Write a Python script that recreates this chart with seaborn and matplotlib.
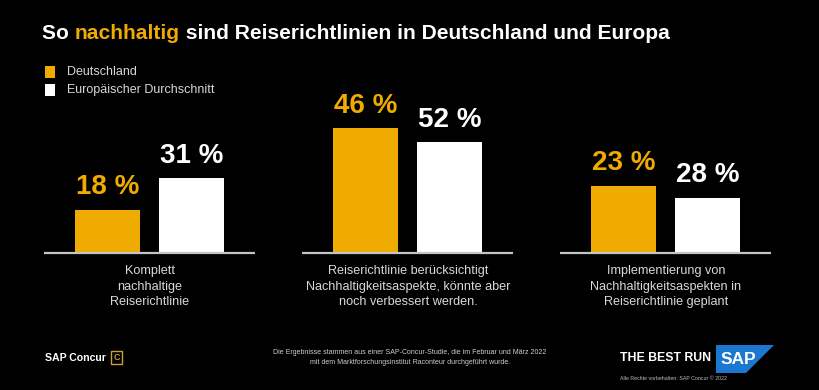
import matplotlib
matplotlib.use("Agg")
import matplotlib.pyplot as plt
from matplotlib.patches import Rectangle, Polygon
import seaborn as sns
import pandas as pd

# ---- data ----
categories = [
    "Komplett\nnachhaltige\nReiserichtlinie",
    "Reiserichtlinie berücksichtigt\nNachhaltigkeitsaspekte, könnte aber\nnoch verbessert werden.",
    "Implementierung von\nNachhaltigkeitsaspekten in\nReiserichtlinie geplant",
]
series = ["Deutschland", "Europäischer Durchschnitt"]
# printed labels (percent)
de_labels = [18, 46, 23]
eu_labels = [31, 52, 28]
# bar heights as drawn in the original graphic (heights in groups 2/3 appear swapped)
de_heights = [18, 52, 28]
eu_heights = [31, 46, 23]

ORANGE = "#F0AB00"
WHITE = "#FFFFFF"
BG = "#000000"

sns.set_theme(style="white")
plt.rcParams["font.family"] = ["Liberation Sans Narrow", "Liberation Sans", "DejaVu Sans"]

W, H = 820, 390
fig = plt.figure(figsize=(8.2, 3.9), dpi=100, facecolor=BG)
ax = fig.add_axes([0, 0, 1, 1])
ax.set_facecolor(BG)

df = pd.DataFrame({
    "group": list(range(3)) * 2,
    "series": [series[0]] * 3 + [series[1]] * 3,
    "height": de_heights + eu_heights,
})
sns.barplot(data=df, x="group", y="height", hue="series", hue_order=series,
            palette={series[0]: ORANGE, series[1]: WHITE}, width=0.651, gap=0.226,
            legend=False, ax=ax, saturation=1, edgecolor="none", linewidth=0)

ax.set_xlim(-0.581, 2.597)
ax.set_ylim(-57.2, 105.3)
ax.set_axis_off()

# value labels
for cont, labs, col in zip(ax.containers, [de_labels, eu_labels], [ORANGE, WHITE]):
    ax.bar_label(cont, labels=[f"{v} %" for v in labs], padding=6.5, color=col,
                 fontsize=20, fontweight="bold", family=["Liberation Sans", "DejaVu Sans"])

# baselines and category labels
for i, cat in enumerate(categories):
    ax.hlines(0, i - 0.409, i + 0.409, color="#c4c4c4", lw=1.6, zorder=5)
    ax.text(i, -5.2, cat, ha="center", va="top", color="#d8d8d8", fontsize=9.1,
            linespacing=1.38)

def fx(x):
    return x / W

def fy(y):
    return 1 - y / H

# title with coloured word
renderer = fig.canvas.get_renderer()
parts = [("So ", WHITE), ("nachhaltig", ORANGE), (" sind Reiserichtlinien in Deutschland und Europa", WHITE)]
x0 = fx(42)
for txt, col in parts:
    t = fig.text(x0, fy(39), txt, color=col, fontsize=15.1, fontweight="bold", va="baseline", ha="left")
    bb = t.get_window_extent(renderer=renderer)
    x0 += bb.width / (W)

# legend
for k, (name, col) in enumerate(zip(series, [ORANGE, WHITE])):
    yc = 72 + 18 * k
    fig.patches.append(Rectangle((fx(45), fy(yc + 6)), 10 / W, 12 / H, transform=fig.transFigure,
                                 facecolor=col, edgecolor="none"))
    fig.text(fx(67), fy(yc), name, color="#d8d8d8", fontsize=9.0, va="center", ha="left")

# footer left: SAP Concur
fig.text(fx(45), fy(358), "SAP Concur", color=WHITE, fontsize=7.6, fontweight="bold", va="center")
fig.patches.append(Rectangle((fx(111), fy(364)), 11 / W, 13 / H, transform=fig.transFigure,
                             facecolor="none", edgecolor="#c9a227", lw=1.0))
fig.text(fx(116.5), fy(357.5), "C", color="#c9a227", fontsize=6.5, fontweight="bold",
         va="center", ha="center")

# footnote
fig.text(fx(410), fy(352), "Die Ergebnisse stammen aus einer SAP-Concur-Studie, die im Februar und März 2022",
         color="#cfcfcf", fontsize=5.0, ha="center", va="center")
fig.text(fx(410), fy(362), "mit dem Marktforschungsinstitut Raconteur durchgeführt wurde.",
         color="#cfcfcf", fontsize=5.0, ha="center", va="center")

# footer right: THE BEST RUN SAP
fig.text(fx(620), fy(358), "THE BEST RUN", color=WHITE, fontsize=8.8, fontweight="bold",
         va="center", ha="left", family=["Liberation Sans", "DejaVu Sans"])
poly = Polygon([(fx(716), fy(345)), (fx(774), fy(345)), (fx(746), fy(373)), (fx(716), fy(373))],
               closed=True, transform=fig.transFigure, facecolor="#1b78d0", edgecolor="none")
fig.patches.append(poly)
fig.text(fx(738), fy(359), "SAP", color=WHITE, fontsize=12.5, fontweight="bold", va="center",
         ha="center", family=["Liberation Sans", "DejaVu Sans"])
fig.text(fx(620), fy(379), "Alle Rechte vorbehalten: SAP Concur © 2022", color="#bdbdbd",
         fontsize=3.8, va="center", ha="left")

fig.savefig("out.png", dpi=100, facecolor=BG)
